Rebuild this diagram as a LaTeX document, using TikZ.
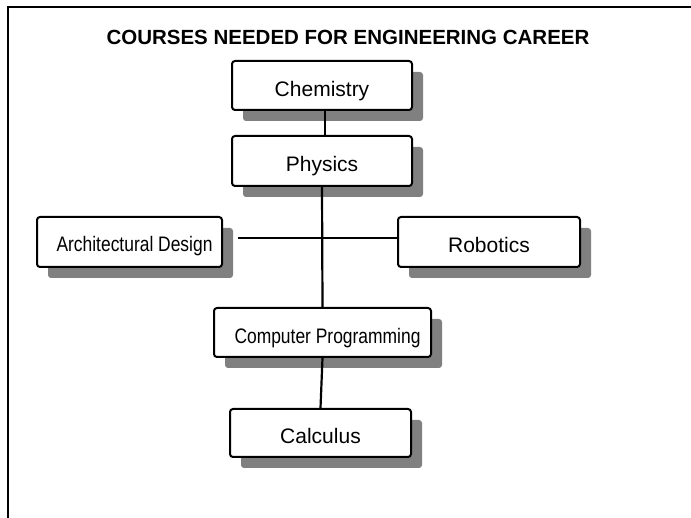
\documentclass[tikz,border=0pt]{standalone}
\usepackage{fontspec}
\setmainfont{Liberation Sans}
\newfontfamily\narrowfont[FakeStretch=0.83]{Liberation Sans}
\usetikzlibrary{shadows}

\tikzset{
  course/.style={draw, line width=2pt, rounded corners=3pt, fill=white,
    inner sep=0pt, text height=22pt, text depth=0pt,
    font=\fontsize{21}{25}\selectfont,
    drop shadow={shadow xshift=11pt, shadow yshift=-11pt, fill=black!50, opacity=1}},
  link/.style={line width=2.2pt}
}

\begin{document}
\begin{tikzpicture}[x=1pt, y=-1pt]
    \useasboundingbox (0,0) rectangle (691,518);

    % frame, open at the bottom and on the right
    \draw[line width=2.5pt] (8,518) -- (8,7) -- (691,7);

    \node[font=\bfseries\fontsize{20.5}{24}\selectfont] (title) at (348,37)
      {COURSES NEEDED FOR ENGINEERING CAREER};

    \node[course, minimum width=180pt, minimum height=49pt] (chem) at (322,85.5) {Chemistry};
    \node[course, minimum width=180pt, minimum height=50pt] (phys) at (322,161) {Physics};
    \node[course, minimum width=185pt, minimum height=50pt, text height=19pt] (arch) at (129.5,242)
      {\narrowfont\hspace{10pt}Architectural Design};
    \node[course, minimum width=182pt, minimum height=50pt, text height=21pt] (robo) at (489,242) {Robotics};
    \node[course, minimum width=217pt, minimum height=49pt] (comp) at (322.5,332.5)
      {\narrowfont\hspace{10pt}Computer Programming};
    \node[course, minimum width=181pt, minimum height=48pt] (calc) at (320.5,433) {Calculus};

    \draw[link] ([xshift=3pt]chem.south) -- ([xshift=3pt]phys.north);
    \draw[link] (phys.south) -- (comp.north);
    \draw[link] ([xshift=15pt, yshift=4pt]arch.east) -- ([yshift=4pt]robo.west);
    \draw[link] (comp.south) -- (calc.north);
  \end{tikzpicture}
\end{document}
